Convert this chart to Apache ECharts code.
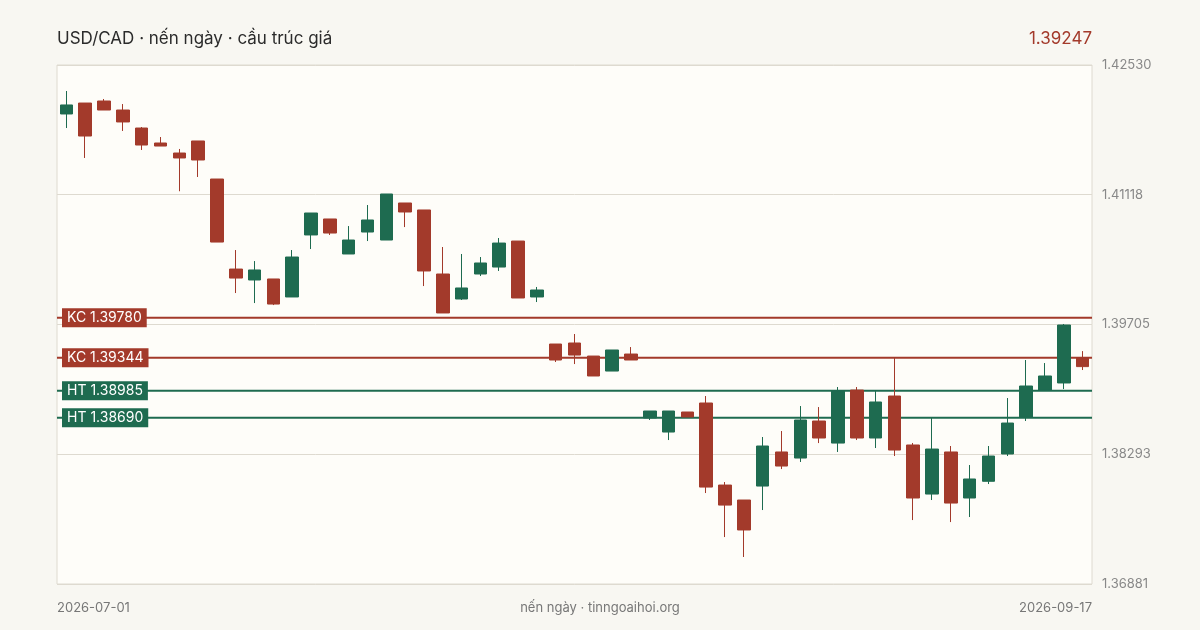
<!DOCTYPE html>
<html>
<head>
<meta charset="utf-8">
<script src="https://cdn.jsdelivr.net/npm/echarts@6/dist/echarts.min.js"></script>
<style>
  html, body { margin: 0; padding: 0; background: #f8f7f2; }
  #main { width: 1200px; height: 630px; }
</style>
</head>
<body>
<div id="main"></div>
<script>
// ngày giao dịch (bỏ cuối tuần, 03/07 và 07/09)
var skipDays = ['2026-07-03', '2026-09-07'];
var dates = [];
(function () {
    var d = new Date(Date.UTC(2026, 6, 1));
    var end = new Date(Date.UTC(2026, 8, 17));
    while (d <= end) {
        var s = d.toISOString().slice(0, 10);
        var wd = d.getUTCDay();
        if (wd !== 0 && wd !== 6 && skipDays.indexOf(s) < 0) dates.push(s);
        d.setUTCDate(d.getUTCDate() + 1);
    }
})();

// open, close, low, high
var opens  = [1.41997,1.42116,1.42138,1.42040,1.41844,1.41681,1.41572,1.41703,1.41289,1.40309,1.40190,1.40201,1.40005,1.40680,1.40854,1.40473,1.40712,1.40625,1.41028,1.40952,1.40255,1.39983,1.40255,1.40331,1.40614,1.40005,1.39493,1.39504,1.39362,1.39199,1.39384,1.38688,1.38535,1.38753,1.38851,1.37958,1.37795,1.37947,1.38318,1.38252,1.38655,1.38415,1.38992,1.38470,1.38927,1.38394,1.37860,1.38318,1.37817,1.37999,1.38296,1.38699,1.38992,1.39069,1.39340];
var closes = [1.42095,1.41757,1.42040,1.41910,1.41659,1.41648,1.41518,1.41496,1.40603,1.40211,1.40299,1.39928,1.40440,1.40919,1.40701,1.40625,1.40843,1.41126,1.40930,1.40288,1.39831,1.40103,1.40375,1.40592,1.39994,1.40081,1.39319,1.39373,1.39145,1.39428,1.39319,1.38764,1.38764,1.38699,1.37936,1.37740,1.37469,1.38383,1.38165,1.38666,1.38470,1.38981,1.38470,1.38862,1.38339,1.37817,1.38350,1.37762,1.38024,1.38274,1.38633,1.39036,1.39145,1.39700,1.39247];
var lows   = [1.41844,1.41518,1.42040,1.41812,1.41605,1.41648,1.41156,1.41311,1.40603,1.40048,1.39939,1.39917,1.40005,1.40527,1.40680,1.40473,1.40614,1.40625,1.40766,1.40124,1.39831,1.39972,1.40233,1.40288,1.39994,1.39950,1.39297,1.39275,1.39145,1.39199,1.39319,1.38666,1.38448,1.38699,1.37871,1.37392,1.37175,1.37686,1.38132,1.38209,1.38415,1.38318,1.38448,1.38361,1.38274,1.37577,1.37795,1.37555,1.37610,1.37969,1.38274,1.38655,1.38992,1.39003,1.39210];
var highs  = [1.42247,1.42116,1.42160,1.42105,1.41855,1.41746,1.41616,1.41703,1.41289,1.40516,1.40396,1.40201,1.40516,1.40919,1.40854,1.40777,1.41006,1.41126,1.41028,1.40952,1.40549,1.40473,1.40440,1.40647,1.40614,1.40114,1.39493,1.39602,1.39362,1.39428,1.39460,1.38764,1.38764,1.38753,1.38927,1.37991,1.37795,1.38481,1.38546,1.38818,1.38807,1.39025,1.39025,1.38981,1.39340,1.38416,1.38688,1.38383,1.38176,1.38383,1.38905,1.39319,1.39286,1.39711,1.39416];

var levelNames  = ['KC', 'KC', 'HT', 'HT'];
var levelValues = [1.39780, 1.39344, 1.38985, 1.38690];

var yMin = 1.36881, yMax = 1.42530;
var yTickLabels = ['1.36881', '1.38293', '1.39705', '1.41118', '1.42530'];
var lastPrice = 1.39247;

var RED = '#a33a2b', GREEN = '#1e6b50';

var candleData = [];
for (var i = 0; i < dates.length; i++) {
    candleData.push([opens[i], closes[i], lows[i], highs[i]]);
}

// mỗi mức là một series line riêng, trục x phụ 0..1 để kéo hết chiều rộng
var levelSeries = levelValues.map(function (v, i) {
    var c = levelNames[i] === 'KC' ? RED : GREEN;
    return {
        type: 'line',
        xAxisIndex: 1,
        data: [
            {
                value: [0, v],
                label: {
                    show: true,
                    position: 'right',
                    distance: 5,
                    formatter: levelNames[i] + ' ' + v.toFixed(5),
                    color: '#ffffff',
                    backgroundColor: c,
                    padding: [3, 5, 2, 5],
                    fontSize: 14,
                    fontFamily: 'Inter'
                }
            },
            [1, v]
        ],
        symbol: 'circle',
        symbolSize: 0,
        showSymbol: true,
        silent: true,
        z: 1,
        lineStyle: { color: c, width: 2 }
    };
});

var textGrey = { color: '#777777', fontSize: 13, fontWeight: 'normal', fontFamily: 'Inter' };

var main = echarts.init(document.getElementById('main'));
var option = {
    backgroundColor: '#f8f7f2',
    animation: false,
    title: [
        {
            text: 'USD/CAD · nến ngày · cầu trúc giá',
            left: 52, top: 25,
            textStyle: { color: '#2b2b2b', fontSize: 17, fontWeight: 'normal', fontFamily: 'Inter' }
        },
        {
            text: lastPrice.toFixed(5),
            right: 103, top: 25,
            textStyle: { color: RED, fontSize: 17, fontWeight: 'normal', fontFamily: 'Inter' }
        },
        { text: dates[0], left: 52, top: 597, textStyle: textGrey },
        { text: 'nến ngày · tinngoaihoi.org', left: 'center', top: 597, textStyle: textGrey },
        { text: dates[dates.length - 1], right: 103, top: 597, textStyle: textGrey }
    ],
    grid: {
        left: 57, right: 108, top: 65, bottom: 46,
        show: true,
        backgroundColor: '#fefdf9',
        borderColor: '#dedad0',
        borderWidth: 1
    },
    xAxis: [
        {
            type: 'category',
            data: dates,
            axisLine: { show: false },
            axisTick: { show: false },
            axisLabel: { show: false },
            splitLine: { show: false }
        },
        {
            type: 'value',
            min: 0,
            max: 1,
            show: false
        }
    ],
    yAxis: {
        type: 'value',
        position: 'right',
        min: yMin,
        max: yMax,
        interval: (yMax - yMin) / 4,
        axisLine: { show: false },
        axisTick: { show: false },
        axisLabel: {
            color: '#888888',
            fontSize: 13,
            fontFamily: 'Inter',
            margin: 10,
            formatter: function (v) {
                var k = Math.round((v - yMin) / ((yMax - yMin) / 4));
                return yTickLabels[k];
            }
        },
        splitLine: { show: true, lineStyle: { color: '#dedad0', width: 1 } }
    },
    series: [
        {
            type: 'candlestick',
            data: candleData,
            barWidth: 13,
            z: 3,
            itemStyle: {
                color: GREEN,
                color0: RED,
                borderColor: GREEN,
                borderColor0: RED,
                borderWidth: 1
            }
        }
    ].concat(levelSeries)
};
main.setOption(option);
</script>
</body>
</html>
